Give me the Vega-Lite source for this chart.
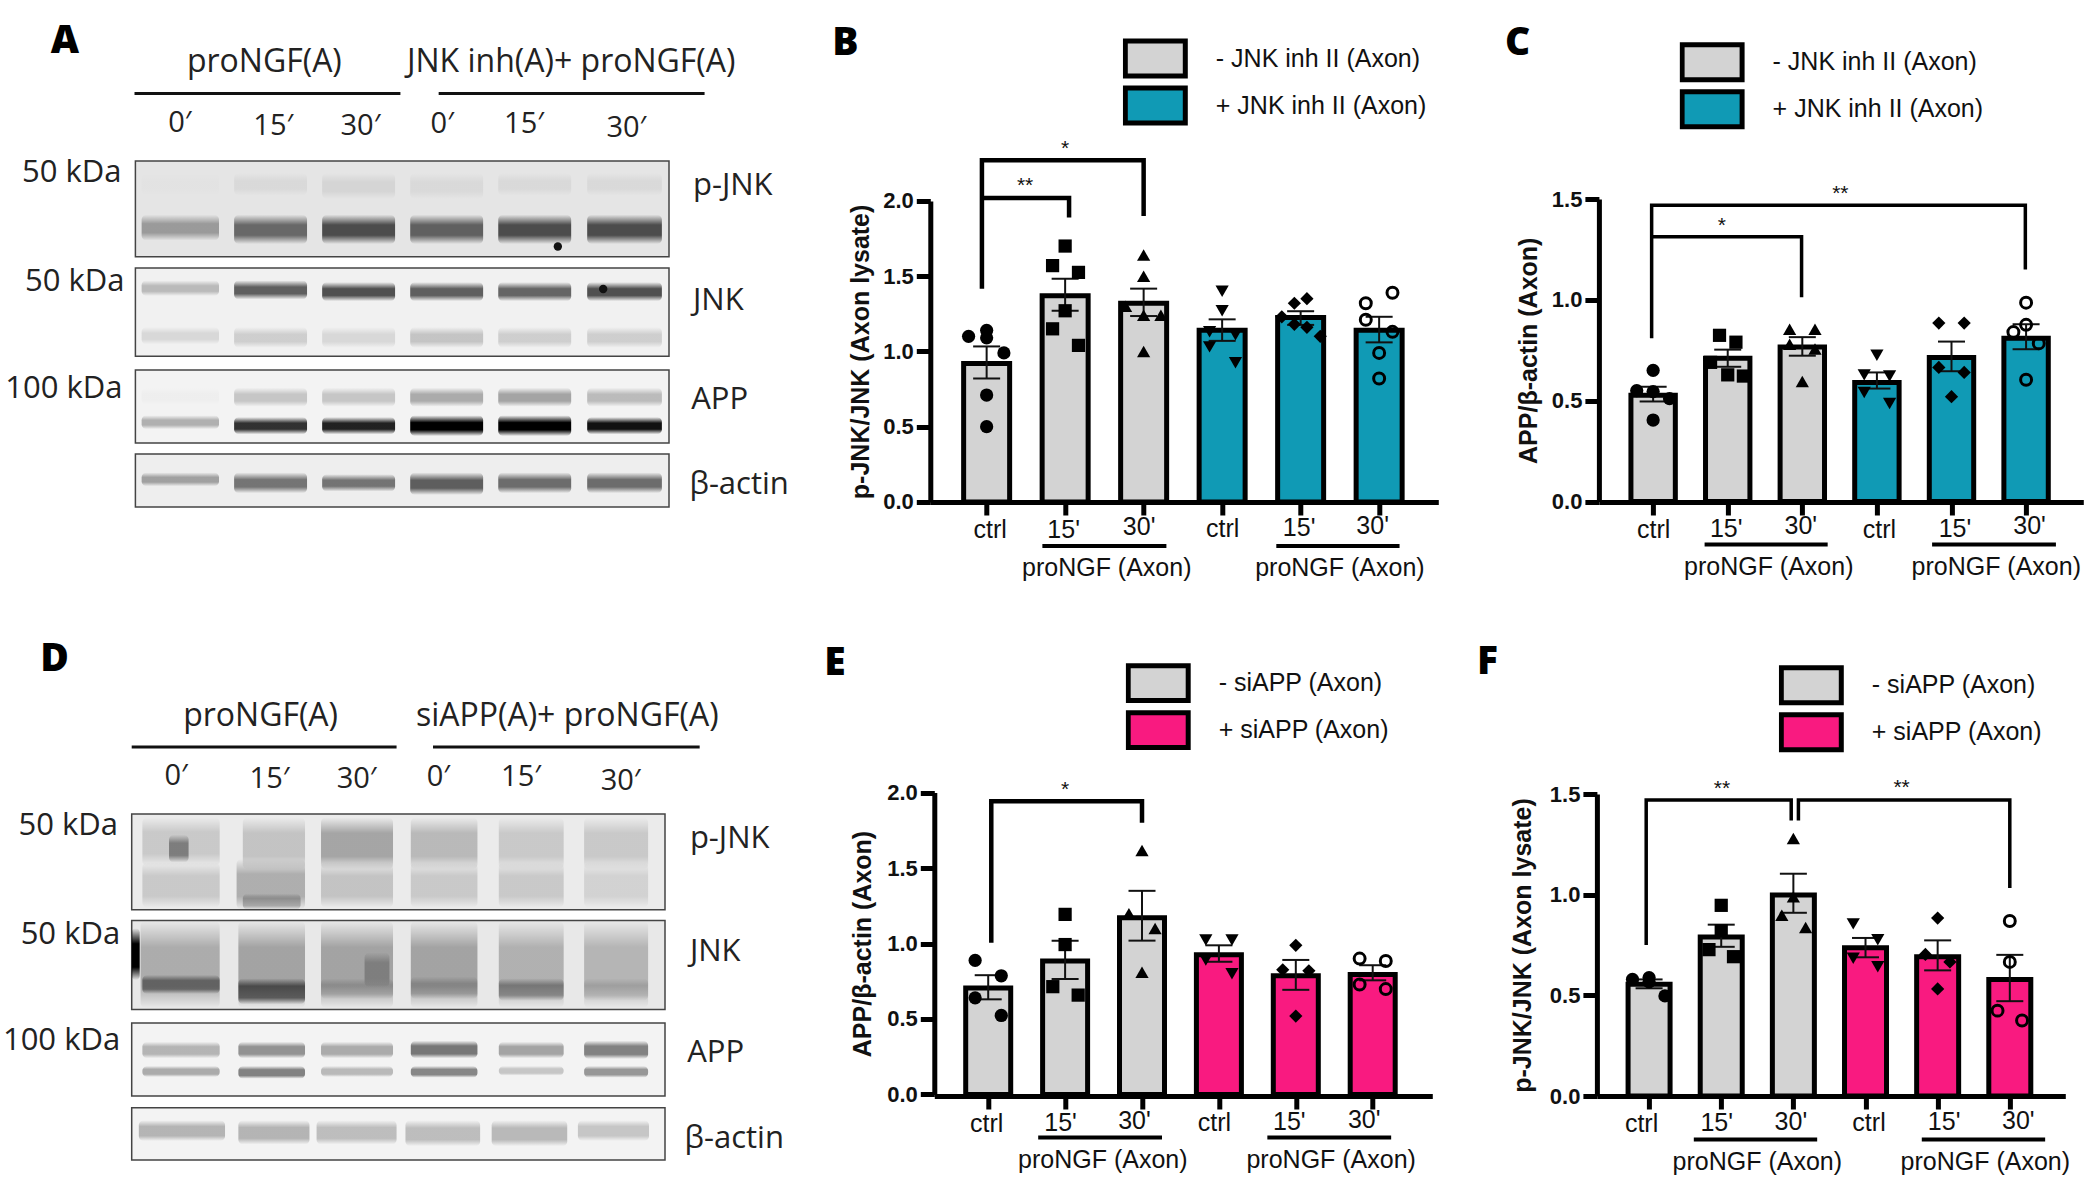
{"$schema":"https://vega.github.io/schema/vega-lite/v6.json","autosize":{"type":"none"},"padding":{"left":131.7,"top":199,"right":1968.3,"bottom":991},"background":"white","config":{"view":{"stroke":null},"font":"Liberation Sans"},
"datasets":{
"frameA":[{"start":0.5,"end":6.5,"top":0,"bottom":27.7,"background":0.09},{"start":0.5,"end":6.5,"top":30.9,"bottom":56.4,"background":0.05},{"start":0.5,"end":6.5,"top":60.4,"bottom":81.5,"background":0.04},{"start":0.5,"end":6.5,"top":84.7,"bottom":100,"background":0.06}],
"bandA":[
{"start":0.57,"end":1.44,"top":15.5,"bottom":23,"darkness":0.45},{"start":1.61,"end":2.43,"top":15.5,"bottom":24,"darkness":0.65},{"start":2.6,"end":3.42,"top":15.5,"bottom":24,"darkness":0.75},{"start":3.59,"end":4.41,"top":15.5,"bottom":24,"darkness":0.68},{"start":4.58,"end":5.4,"top":15.5,"bottom":24,"darkness":0.75},{"start":5.58,"end":6.42,"top":15.5,"bottom":24,"darkness":0.75},
{"start":0.57,"end":1.44,"top":3.5,"bottom":10,"darkness":0.04},{"start":1.61,"end":2.43,"top":3.5,"bottom":10,"darkness":0.12},{"start":2.6,"end":3.42,"top":3.5,"bottom":11,"darkness":0.15},{"start":3.59,"end":4.41,"top":3.5,"bottom":11,"darkness":0.12},{"start":4.58,"end":5.4,"top":3.5,"bottom":10,"darkness":0.12},{"start":5.58,"end":6.42,"top":3.5,"bottom":10,"darkness":0.12},
{"start":0.57,"end":1.44,"top":34.5,"bottom":39,"darkness":0.35},{"start":1.61,"end":2.43,"top":34.5,"bottom":40,"darkness":0.7},{"start":2.6,"end":3.42,"top":35,"bottom":40.5,"darkness":0.75},{"start":3.59,"end":4.41,"top":35,"bottom":40.5,"darkness":0.7},{"start":4.58,"end":5.4,"top":35,"bottom":40.5,"darkness":0.68},{"start":5.58,"end":6.42,"top":35,"bottom":40.5,"darkness":0.75},
{"start":0.57,"end":1.44,"top":48,"bottom":53,"darkness":0.2},{"start":1.61,"end":2.43,"top":48,"bottom":54,"darkness":0.25},{"start":2.6,"end":3.42,"top":48,"bottom":54,"darkness":0.2},{"start":3.59,"end":4.41,"top":48,"bottom":54,"darkness":0.3},{"start":4.58,"end":5.4,"top":48,"bottom":54,"darkness":0.25},{"start":5.58,"end":6.42,"top":48,"bottom":54,"darkness":0.25},
{"start":0.57,"end":1.44,"top":65.5,"bottom":70.5,"darkness":0.06},{"start":1.61,"end":2.43,"top":65.5,"bottom":71,"darkness":0.3},{"start":2.6,"end":3.42,"top":65.5,"bottom":71,"darkness":0.3},{"start":3.59,"end":4.41,"top":65.5,"bottom":71,"darkness":0.42},{"start":4.58,"end":5.4,"top":65.5,"bottom":71,"darkness":0.45},{"start":5.58,"end":6.42,"top":65.5,"bottom":71,"darkness":0.35},
{"start":0.57,"end":1.44,"top":73.5,"bottom":77.5,"darkness":0.4},{"start":1.61,"end":2.43,"top":74,"bottom":79,"darkness":0.85},{"start":2.6,"end":3.42,"top":74,"bottom":79,"darkness":0.9},{"start":3.59,"end":4.41,"top":73.5,"bottom":79.5,"darkness":1},{"start":4.58,"end":5.4,"top":73.5,"bottom":79.5,"darkness":1},{"start":5.58,"end":6.42,"top":74,"bottom":79,"darkness":0.95},
{"start":0.57,"end":1.44,"top":90,"bottom":94,"darkness":0.45},{"start":1.61,"end":2.43,"top":90,"bottom":96,"darkness":0.62},{"start":2.6,"end":3.42,"top":90.5,"bottom":95.5,"darkness":0.62},{"start":3.59,"end":4.41,"top":90,"bottom":96.5,"darkness":0.7},{"start":4.58,"end":5.4,"top":90,"bottom":96,"darkness":0.65},{"start":5.58,"end":6.42,"top":90,"bottom":96,"darkness":0.65}],
"speckA":[{"lane":5.25,"row":24.7},{"lane":5.76,"row":37}],
"lineA":[{"from":0.49,"to":3.48,"row":-19.5},{"from":3.91,"to":6.9,"row":-19.5}],
"headA":[{"lane":1.95,"row":-28.5,"label":"proNGF(A)"},{"lane":5.4,"row":-28.5,"label":"JNK inh(A)+ proNGF(A)"}],
"timeA":[{"lane":1.0,"row":-11,"label":"0′"},{"lane":2.05,"row":-10.2,"label":"15′"},{"lane":3.03,"row":-10.2,"label":"30′"},{"lane":3.95,"row":-10.7,"label":"0′"},{"lane":4.87,"row":-10.7,"label":"15′"},{"lane":6.02,"row":-9.5,"label":"30′"}],
"sizeA":[{"lane":0.344,"row":3.5,"label":"50 kDa"},{"lane":0.378,"row":35,"label":"50 kDa"},{"lane":0.355,"row":65.8,"label":"100 kDa"}],
"nameA":[{"lane":6.77,"row":7.2,"label":"p-JNK"},{"lane":6.77,"row":40.4,"label":"JNK"},{"lane":6.75,"row":69.1,"label":"APP"},{"lane":6.73,"row":93.6,"label":"β-actin"}],
"frameD":[{"start":0.5,"end":6.5,"top":0,"bottom":27.7,"background":0.07},{"start":0.5,"end":6.5,"top":30.8,"bottom":56.5,"background":0.08},{"start":0.5,"end":6.5,"top":60.4,"bottom":81.5,"background":0.04},{"start":0.5,"end":6.5,"top":84.9,"bottom":100,"background":0.04}],
"bandD":[
{"start":0.62,"end":1.49,"top":1,"bottom":15,"darkness":0.25},{"start":1.75,"end":2.45,"top":1,"bottom":16,"darkness":0.28},{"start":2.63,"end":3.44,"top":1,"bottom":16,"darkness":0.42},{"start":3.64,"end":4.39,"top":1,"bottom":16,"darkness":0.33},{"start":4.63,"end":5.36,"top":1,"bottom":16,"darkness":0.25},{"start":5.59,"end":6.31,"top":1,"bottom":16,"darkness":0.25},
{"start":0.62,"end":1.49,"top":14,"bottom":27,"darkness":0.25},{"start":1.68,"end":2.45,"top":13,"bottom":27.5,"darkness":0.38},{"start":2.63,"end":3.44,"top":14,"bottom":27,"darkness":0.28},{"start":3.64,"end":4.39,"top":14,"bottom":27,"darkness":0.25},{"start":4.63,"end":5.36,"top":14,"bottom":27,"darkness":0.25},{"start":5.59,"end":6.31,"top":14,"bottom":27,"darkness":0.2},
{"start":0.92,"end":1.14,"top":6,"bottom":14,"darkness":0.5},{"start":1.75,"end":2.4,"top":23,"bottom":27.7,"darkness":0.35},
{"start":0.6,"end":1.49,"top":31,"bottom":56,"darkness":0.38},{"start":1.7,"end":2.45,"top":31,"bottom":56,"darkness":0.42},{"start":2.63,"end":3.44,"top":31,"bottom":56,"darkness":0.42},{"start":3.64,"end":4.39,"top":31,"bottom":56,"darkness":0.42},{"start":4.63,"end":5.36,"top":31,"bottom":56,"darkness":0.36},{"start":5.59,"end":6.31,"top":31,"bottom":56,"darkness":0.34},
{"start":0.62,"end":1.49,"top":46.5,"bottom":52,"darkness":0.55},{"start":1.7,"end":2.45,"top":47.5,"bottom":55,"darkness":0.65},{"start":2.63,"end":3.44,"top":47.5,"bottom":53.5,"darkness":0.25},{"start":3.64,"end":4.39,"top":47,"bottom":53.5,"darkness":0.3},{"start":4.63,"end":5.36,"top":47.5,"bottom":54,"darkness":0.45},{"start":5.59,"end":6.31,"top":47.5,"bottom":54,"darkness":0.22},
{"start":3.12,"end":3.4,"top":40,"bottom":50,"darkness":0.35},{"start":0.5,"end":0.59,"top":33,"bottom":48,"darkness":1},
{"start":0.62,"end":1.49,"top":65.8,"bottom":70.6,"darkness":0.38},{"start":1.7,"end":2.45,"top":65.8,"bottom":70.6,"darkness":0.52},{"start":2.63,"end":3.44,"top":65.8,"bottom":70.6,"darkness":0.42},{"start":3.64,"end":4.39,"top":65.5,"bottom":70.6,"darkness":0.62},{"start":4.63,"end":5.36,"top":65.8,"bottom":70.6,"darkness":0.45},{"start":5.59,"end":6.31,"top":65.5,"bottom":70.8,"darkness":0.58},
{"start":0.62,"end":1.49,"top":72.8,"bottom":76,"darkness":0.42},{"start":1.7,"end":2.45,"top":72.8,"bottom":76.5,"darkness":0.58},{"start":2.63,"end":3.44,"top":72.8,"bottom":76,"darkness":0.36},{"start":3.64,"end":4.39,"top":72.8,"bottom":76.2,"darkness":0.56},{"start":4.63,"end":5.36,"top":72.8,"bottom":75.6,"darkness":0.3},{"start":5.59,"end":6.31,"top":72.8,"bottom":76.2,"darkness":0.5},
{"start":0.58,"end":1.55,"top":88.5,"bottom":94.5,"darkness":0.38},{"start":1.7,"end":2.5,"top":88.5,"bottom":95.5,"darkness":0.38},{"start":2.58,"end":3.48,"top":88.5,"bottom":95.5,"darkness":0.34},{"start":3.58,"end":4.42,"top":88.5,"bottom":96,"darkness":0.34},{"start":4.55,"end":5.4,"top":88.5,"bottom":96,"darkness":0.36},{"start":5.52,"end":6.32,"top":88.5,"bottom":94.5,"darkness":0.3}],
"lineD":[{"from":0.5,"to":3.48,"row":-19.4},{"from":3.89,"to":6.89,"row":-19.4}],
"headD":[{"lane":1.95,"row":-28.4,"label":"proNGF(A)"},{"lane":5.4,"row":-28.4,"label":"siAPP(A)+ proNGF(A)"}],
"timeD":[{"lane":1.0,"row":-11,"label":"0′"},{"lane":2.05,"row":-10.2,"label":"15′"},{"lane":3.03,"row":-10.2,"label":"30′"},{"lane":3.95,"row":-10.7,"label":"0′"},{"lane":4.88,"row":-10.7,"label":"15′"},{"lane":6.0,"row":-9.5,"label":"30′"}],
"sizeD":[{"lane":0.345,"row":3.5,"label":"50 kDa"},{"lane":0.37,"row":35,"label":"50 kDa"},{"lane":0.37,"row":65.6,"label":"100 kDa"}],
"nameD":[{"lane":6.78,"row":7.2,"label":"p-JNK"},{"lane":6.78,"row":40,"label":"JNK"},{"lane":6.75,"row":69,"label":"APP"},{"lane":6.72,"row":93.8,"label":"β-actin"}],
"barB":[{"pos":1,"treat":"- JNK inh II (Axon)","mean":0.92,"low":0.82,"high":1.033},{"pos":2,"treat":"- JNK inh II (Axon)","mean":1.37,"low":1.27,"high":1.483},{"pos":3,"treat":"- JNK inh II (Axon)","mean":1.32,"low":1.235,"high":1.417},{"pos":4,"treat":"+ JNK inh II (Axon)","mean":1.14,"low":1.07,"high":1.213},{"pos":5,"treat":"+ JNK inh II (Axon)","mean":1.225,"low":1.176,"high":1.267},{"pos":6,"treat":"+ JNK inh II (Axon)","mean":1.14,"low":1.06,"high":1.23}],
"ptB":[{"pos":1,"value":1.14,"marker":"circle"},{"pos":0.77,"value":1.1,"marker":"circle"},{"pos":1,"value":1.09,"marker":"circle"},{"pos":1.22,"value":0.99,"marker":"circle"},{"pos":1,"value":0.71,"marker":"circle"},{"pos":1,"value":0.5,"marker":"circle"},
{"pos":2,"value":1.7,"marker":"square"},{"pos":1.84,"value":1.57,"marker":"square"},{"pos":2.17,"value":1.525,"marker":"square"},{"pos":2,"value":1.27,"marker":"square"},{"pos":1.84,"value":1.15,"marker":"square"},{"pos":2.17,"value":1.04,"marker":"square"},
{"pos":3,"value":1.64,"marker":"up"},{"pos":3,"value":1.5,"marker":"up"},{"pos":2.77,"value":1.3,"marker":"up"},{"pos":3,"value":1.24,"marker":"up"},{"pos":3.22,"value":1.24,"marker":"up"},{"pos":3,"value":1.0,"marker":"up"},
{"pos":4,"value":1.4,"marker":"down"},{"pos":4,"value":1.27,"marker":"down"},{"pos":3.84,"value":1.13,"marker":"down"},{"pos":4.17,"value":1.11,"marker":"down"},{"pos":3.84,"value":1.03,"marker":"down"},{"pos":4.17,"value":0.925,"marker":"down"},
{"pos":4.92,"value":1.32,"marker":"diamond"},{"pos":5.08,"value":1.35,"marker":"diamond"},{"pos":4.76,"value":1.23,"marker":"diamond"},{"pos":4.92,"value":1.18,"marker":"diamond"},{"pos":5.08,"value":1.16,"marker":"diamond"},{"pos":5.25,"value":1.1,"marker":"diamond"},
{"pos":6.17,"value":1.39,"marker":"open"},{"pos":5.83,"value":1.32,"marker":"open"},{"pos":5.83,"value":1.21,"marker":"open"},{"pos":6.17,"value":1.13,"marker":"open"},{"pos":6,"value":0.99,"marker":"open"},{"pos":6,"value":0.82,"marker":"open"}],
"brB":[{"id":"a","seq":1,"pos":0.94,"level":1.417},{"id":"a","seq":2,"pos":0.94,"level":2.27},{"id":"a","seq":3,"pos":3.0,"level":2.27},{"id":"a","seq":4,"pos":3.0,"level":1.9},{"id":"b","seq":1,"pos":0.94,"level":2.02},{"id":"b","seq":2,"pos":2.05,"level":2.02},{"id":"b","seq":3,"pos":2.05,"level":1.89}],
"starB":[{"pos":2.0,"level":2.38,"label":"*"},{"pos":1.49,"level":2.13,"label":"**"}],
"grpB":[{"from":1.71,"to":3.29,"level":-0.293,"mid":2.53,"textLevel":-0.44,"label":"proNGF (Axon)"},{"from":4.69,"to":6.26,"level":-0.293,"mid":5.5,"textLevel":-0.44,"label":"proNGF (Axon)"}],
"barC":[{"pos":1,"treat":"- JNK inh II (Axon)","mean":0.527,"low":0.496,"high":0.569},{"pos":2,"treat":"- JNK inh II (Axon)","mean":0.71,"low":0.668,"high":0.753},{"pos":3,"treat":"- JNK inh II (Axon)","mean":0.766,"low":0.723,"high":0.815},{"pos":4,"treat":"+ JNK inh II (Axon)","mean":0.59,"low":0.56,"high":0.64},{"pos":5,"treat":"+ JNK inh II (Axon)","mean":0.714,"low":0.646,"high":0.793},{"pos":6,"treat":"+ JNK inh II (Axon)","mean":0.81,"low":0.755,"high":0.879}],
"ptC":[{"pos":1,"value":0.65,"marker":"circle"},{"pos":0.78,"value":0.55,"marker":"circle"},{"pos":1,"value":0.545,"marker":"circle"},{"pos":1.22,"value":0.51,"marker":"circle"},{"pos":1,"value":0.404,"marker":"circle"},
{"pos":1.89,"value":0.824,"marker":"square"},{"pos":2.11,"value":0.79,"marker":"square"},{"pos":1.77,"value":0.69,"marker":"square"},{"pos":2,"value":0.628,"marker":"square"},{"pos":2.21,"value":0.622,"marker":"square"},
{"pos":2.83,"value":0.854,"marker":"up"},{"pos":3.17,"value":0.854,"marker":"up"},{"pos":2.83,"value":0.78,"marker":"up"},{"pos":3.17,"value":0.756,"marker":"up"},{"pos":3,"value":0.595,"marker":"up"},
{"pos":4,"value":0.725,"marker":"down"},{"pos":3.83,"value":0.628,"marker":"down"},{"pos":4.17,"value":0.622,"marker":"down"},{"pos":3.83,"value":0.54,"marker":"down"},{"pos":4.17,"value":0.486,"marker":"down"},
{"pos":4.83,"value":0.885,"marker":"diamond"},{"pos":5.17,"value":0.885,"marker":"diamond"},{"pos":4.83,"value":0.665,"marker":"diamond"},{"pos":5.17,"value":0.64,"marker":"diamond"},{"pos":5,"value":0.52,"marker":"diamond"},
{"pos":6,"value":0.986,"marker":"open"},{"pos":6,"value":0.876,"marker":"open"},{"pos":5.83,"value":0.84,"marker":"open"},{"pos":6.17,"value":0.784,"marker":"open"},{"pos":6,"value":0.604,"marker":"open"}],
"brC":[{"id":"a","seq":1,"pos":0.98,"level":0.81},{"id":"a","seq":2,"pos":0.98,"level":1.469},{"id":"a","seq":3,"pos":5.99,"level":1.469},{"id":"a","seq":4,"pos":5.99,"level":1.15},{"id":"b","seq":1,"pos":0.98,"level":1.313},{"id":"b","seq":2,"pos":2.99,"level":1.313},{"id":"b","seq":3,"pos":2.99,"level":1.013}],
"starC":[{"pos":1.92,"level":1.393,"label":"*"},{"pos":3.51,"level":1.551,"label":"**"}],
"grpC":[{"from":1.69,"to":3.34,"level":-0.213,"mid":2.55,"textLevel":-0.323,"label":"proNGF (Axon)"},{"from":4.74,"to":6.4,"level":-0.213,"mid":5.6,"textLevel":-0.323,"label":"proNGF (Axon)"}],
"barE":[{"pos":1,"treat":"- siAPP (Axon)","mean":0.705,"low":0.63,"high":0.79},{"pos":2,"treat":"- siAPP (Axon)","mean":0.884,"low":0.765,"high":1.019},{"pos":3,"treat":"- siAPP (Axon)","mean":1.17,"low":1.019,"high":1.349},{"pos":4,"treat":"+ siAPP (Axon)","mean":0.926,"low":0.879,"high":0.988},{"pos":5,"treat":"+ siAPP (Axon)","mean":0.786,"low":0.693,"high":0.891},{"pos":6,"treat":"+ siAPP (Axon)","mean":0.795,"low":0.756,"high":0.856}],
"ptE":[{"pos":0.83,"value":0.888,"marker":"circle"},{"pos":1.17,"value":0.786,"marker":"circle"},{"pos":0.83,"value":0.64,"marker":"circle"},{"pos":1.17,"value":0.523,"marker":"circle"},
{"pos":2,"value":1.193,"marker":"square"},{"pos":2,"value":0.993,"marker":"square"},{"pos":1.84,"value":0.714,"marker":"square"},{"pos":2.17,"value":0.658,"marker":"square"},
{"pos":3,"value":1.616,"marker":"up"},{"pos":2.83,"value":1.198,"marker":"up"},{"pos":3.17,"value":1.1,"marker":"up"},{"pos":3,"value":0.81,"marker":"up"},
{"pos":3.83,"value":1.023,"marker":"down"},{"pos":4.17,"value":1.023,"marker":"down"},{"pos":3.83,"value":0.89,"marker":"down"},{"pos":4.17,"value":0.8,"marker":"down"},
{"pos":5,"value":0.988,"marker":"diamond"},{"pos":4.83,"value":0.826,"marker":"diamond"},{"pos":5.17,"value":0.819,"marker":"diamond"},{"pos":5,"value":0.519,"marker":"diamond"},
{"pos":5.83,"value":0.9,"marker":"open"},{"pos":6.17,"value":0.884,"marker":"open"},{"pos":5.83,"value":0.728,"marker":"open"},{"pos":6.17,"value":0.698,"marker":"open"}],
"brE":[{"id":"a","seq":1,"pos":1.04,"level":1.005},{"id":"a","seq":2,"pos":1.04,"level":1.942},{"id":"a","seq":3,"pos":3.0,"level":1.942},{"id":"a","seq":4,"pos":3.0,"level":1.8}],
"starE":[{"pos":2.0,"level":2.05,"label":"*"}],
"grpE":[{"from":1.65,"to":3.26,"level":-0.286,"mid":2.49,"textLevel":-0.437,"label":"proNGF (Axon)"},{"from":4.63,"to":6.24,"level":-0.286,"mid":5.46,"textLevel":-0.437,"label":"proNGF (Axon)"}],
"barF":[{"pos":1,"treat":"- siAPP (Axon)","mean":0.555,"low":0.535,"high":0.579},{"pos":2,"treat":"- siAPP (Axon)","mean":0.79,"low":0.741,"high":0.851},{"pos":3,"treat":"- siAPP (Axon)","mean":0.998,"low":0.91,"high":1.104},{"pos":4,"treat":"+ siAPP (Axon)","mean":0.736,"low":0.689,"high":0.785},{"pos":5,"treat":"+ siAPP (Axon)","mean":0.692,"low":0.624,"high":0.773},{"pos":6,"treat":"+ siAPP (Axon)","mean":0.579,"low":0.471,"high":0.701}],
"ptF":[{"pos":0.77,"value":0.579,"marker":"circle"},{"pos":1,"value":0.588,"marker":"circle"},{"pos":1,"value":0.567,"marker":"circle"},{"pos":1.22,"value":0.497,"marker":"circle"},
{"pos":2,"value":0.947,"marker":"square"},{"pos":2,"value":0.82,"marker":"square"},{"pos":1.83,"value":0.727,"marker":"square"},{"pos":2.17,"value":0.692,"marker":"square"},
{"pos":3,"value":1.279,"marker":"up"},{"pos":3,"value":0.989,"marker":"up"},{"pos":2.84,"value":0.898,"marker":"up"},{"pos":3.17,"value":0.837,"marker":"up"},
{"pos":3.83,"value":0.855,"marker":"down"},{"pos":4.17,"value":0.776,"marker":"down"},{"pos":3.83,"value":0.684,"marker":"down"},{"pos":4.17,"value":0.642,"marker":"down"},
{"pos":5,"value":0.884,"marker":"diamond"},{"pos":4.83,"value":0.703,"marker":"diamond"},{"pos":5.17,"value":0.666,"marker":"diamond"},{"pos":5,"value":0.532,"marker":"diamond"},
{"pos":6,"value":0.869,"marker":"open"},{"pos":6,"value":0.666,"marker":"open"},{"pos":5.83,"value":0.424,"marker":"open"},{"pos":6.17,"value":0.375,"marker":"open"}],
"brF":[{"id":"a","seq":1,"pos":0.96,"level":0.75},{"id":"a","seq":2,"pos":0.96,"level":1.47},{"id":"a","seq":3,"pos":2.97,"level":1.47},{"id":"a","seq":4,"pos":2.97,"level":1.369},{"id":"b","seq":1,"pos":3.07,"level":1.369},{"id":"b","seq":2,"pos":3.07,"level":1.47},{"id":"b","seq":3,"pos":6.0,"level":1.47},{"id":"b","seq":4,"pos":6.0,"level":1.033}],
"starF":[{"pos":2.01,"level":1.552,"label":"**"},{"pos":4.5,"level":1.556,"label":"**"}],
"grpF":[{"from":1.62,"to":3.33,"level":-0.216,"mid":2.5,"textLevel":-0.328,"label":"proNGF (Axon)"},{"from":4.78,"to":6.49,"level":-0.216,"mid":5.66,"textLevel":-0.328,"label":"proNGF (Axon)"}]
},
"vconcat":[
{"hconcat":[
{"width":637.7,"height":303,"title":{"text":"A","anchor":"start","frame":"group","dx":-81,"offset":-15,"fontSize":39,"font":"Open Sans","fontWeight":800},
"encoding":{"x":{"type":"quantitative","scale":{"domain":[0.5,6.5],"range":[3.7,537.3],"nice":false,"zero":false},"axis":null},"y":{"type":"quantitative","scale":{"domain":[0,100],"range":[-38,308],"nice":false,"zero":false},"axis":null}},
"layer":[
{"data":{"name":"frameA"},"mark":{"type":"rect","stroke":"#444","strokeWidth":1.5},"encoding":{"x":{"field":"start","type":"quantitative"},"x2":{"field":"end"},"y":{"field":"top","type":"quantitative"},"y2":{"field":"bottom"},"fill":{"field":"background","type":"quantitative","scale":{"domain":[0,1],"range":["#ffffff","#000000"]},"legend":null}}},
{"data":{"name":"bandA"},"mark":{"type":"rect","cornerRadius":5,"fill":{"gradient":"linear","x1":0,"y1":0,"x2":0,"y2":1,"stops":[{"offset":0,"color":"rgba(0,0,0,0)"},{"offset":0.35,"color":"#000000"},{"offset":0.7,"color":"#000000"},{"offset":1,"color":"rgba(0,0,0,0)"}]}},"encoding":{"x":{"field":"start","type":"quantitative"},"x2":{"field":"end"},"y":{"field":"top","type":"quantitative"},"y2":{"field":"bottom"},"opacity":{"field":"darkness","type":"quantitative","scale":{"type":"pow","exponent":1.4,"domain":[0,1],"range":[0,1]},"legend":null}}},
{"data":{"name":"speckA"},"mark":{"type":"circle","color":"#111","size":70,"opacity":1},"encoding":{"x":{"field":"lane","type":"quantitative"},"y":{"field":"row","type":"quantitative"}}},
{"data":{"name":"lineA"},"mark":{"type":"rule","color":"#111","strokeWidth":3},"encoding":{"x":{"field":"from","type":"quantitative"},"x2":{"field":"to"},"y":{"field":"row","type":"quantitative"}}},
{"data":{"name":"headA"},"mark":{"type":"text","font":"Open Sans","fontSize":32,"color":"#222","align":"center","baseline":"middle"},"encoding":{"x":{"field":"lane","type":"quantitative"},"y":{"field":"row","type":"quantitative"},"text":{"field":"label"}}},
{"data":{"name":"timeA"},"mark":{"type":"text","font":"Open Sans","fontSize":29,"color":"#222","align":"center","baseline":"middle"},"encoding":{"x":{"field":"lane","type":"quantitative"},"y":{"field":"row","type":"quantitative"},"text":{"field":"label"}}},
{"data":{"name":"sizeA"},"mark":{"type":"text","font":"Open Sans","fontSize":31,"color":"#222","align":"right","baseline":"middle"},"encoding":{"x":{"field":"lane","type":"quantitative"},"y":{"field":"row","type":"quantitative"},"text":{"field":"label"}}},
{"data":{"name":"nameA"},"mark":{"type":"text","font":"Open Sans","fontSize":31,"color":"#222","align":"left","baseline":"middle"},"encoding":{"x":{"field":"lane","type":"quantitative"},"y":{"field":"row","type":"quantitative"},"text":{"field":"label"}}}
]},
{"width":508,"height":303,"title":{"text":"B","anchor":"start","frame":"group","dx":-98,"offset":-28,"fontSize":39,"font":"Open Sans","fontWeight":800},
"layer":[
{"data":{"name":"barB"},"mark":{"type":"bar","orient":"vertical","size":46,"stroke":"#000","strokeWidth":5},"encoding":{"x":{"field":"pos","type":"quantitative","scale":{"domain":[0.346,6.69],"nice":false,"zero":false},"axis":{"values":[1,2,3,4,5,6],"title":null,"grid":false,"domainWidth":5,"domainColor":"#000","tickWidth":5,"tickColor":"#000","tickSize":13,"labelPadding":{"expr":"[2,2,-1,1,0,-2][datum.value-1]"},"labelFont":"Liberation Sans","labelFontSize":25,"labelColor":"#111","labelFlush":false,"labelOverlap":false,"labelBound":false,"labelExpr":"['ctrl',\"15'\",\"30'\",'ctrl',\"15'\",\"30'\"][datum.value-1]","labelOffset":{"expr":"[3,-2,-5,0,-2,-7][datum.value-1]"}}},"y":{"field":"mean","type":"quantitative","stack":null,"scale":{"domain":[0,2],"range":[302.9,1.9],"nice":false},"axis":{"values":[0,0.5,1,1.5,2],"format":".1f","title":"p-JNK/JNK (Axon lysate)","titleFont":"Liberation Sans","titleFontSize":25,"titleFontWeight":"bold","titleColor":"#111","titleX":-57,"grid":false,"domainWidth":5,"domainColor":"#000","tickWidth":5,"tickColor":"#000","tickSize":14,"labelPadding":3,"labelFont":"Liberation Sans","labelFontSize":22,"labelFontWeight":"bold","labelColor":"#111","labelFlush":false,"labelOverlap":false,"labelBound":false}},"fill":{"field":"treat","type":"nominal","scale":{"domain":["- JNK inh II (Axon)","+ JNK inh II (Axon)"],"range":["#d3d3d3","#109ab5"]},"legend":{"title":null,"orient":"none","legendX":192.5,"legendY":-164,"padding":0,"symbolType":"M-1,-0.58H1V0.58H-1Z","symbolSize":3600,"symbolStrokeWidth":5,"symbolStrokeColor":"#000","clipHeight":47,"rowPadding":0,"labelFont":"Liberation Sans","labelFontSize":25,"labelColor":"#111","labelOffset":28,"labelLimit":400}}}},
{"data":{"name":"barB"},"mark":{"type":"rule","color":"#111","strokeWidth":2},"encoding":{"x":{"field":"pos","type":"quantitative"},"y":{"field":"low","type":"quantitative"},"y2":{"field":"high"}}},
{"data":{"name":"barB"},"mark":{"type":"tick","orient":"horizontal","color":"#111","size":27,"thickness":2,"opacity":1},"encoding":{"x":{"field":"pos","type":"quantitative"},"y":{"field":"low","type":"quantitative"}}},
{"data":{"name":"barB"},"mark":{"type":"tick","orient":"horizontal","color":"#111","size":27,"thickness":2,"opacity":1},"encoding":{"x":{"field":"pos","type":"quantitative"},"y":{"field":"high","type":"quantitative"}}},
{"data":{"name":"ptB"},"mark":{"type":"point","filled":true,"fill":"#000","stroke":"#000","opacity":1},"encoding":{"x":{"field":"pos","type":"quantitative"},"y":{"field":"value","type":"quantitative"},"shape":{"field":"marker","type":"nominal","scale":{"domain":["circle","square","up","down","diamond","open"],"range":["circle","square","triangle-up","triangle-down","diamond","circle"]},"legend":null},"size":{"condition":{"test":"datum.marker==='open'","value":120},"value":175},"fillOpacity":{"condition":{"test":"datum.marker==='open'","value":0},"value":1},"strokeWidth":{"condition":{"test":"datum.marker==='open'","value":3},"value":0}}},
{"data":{"name":"brB"},"mark":{"type":"line","color":"#000","strokeWidth":4.5,"strokeCap":"butt","strokeJoin":"miter"},"encoding":{"x":{"field":"pos","type":"quantitative"},"y":{"field":"level","type":"quantitative"},"detail":{"field":"id"},"order":{"field":"seq"}}},
{"data":{"name":"grpB"},"mark":{"type":"rule","color":"#000","strokeWidth":4},"encoding":{"x":{"field":"from","type":"quantitative"},"x2":{"field":"to"},"y":{"field":"level","type":"quantitative"}}},
{"data":{"name":"grpB"},"mark":{"type":"text","font":"Liberation Sans","fontSize":25,"color":"#111","align":"center","baseline":"middle"},"encoding":{"x":{"field":"mid","type":"quantitative"},"y":{"field":"textLevel","type":"quantitative"},"text":{"field":"label"}}},
{"data":{"name":"starB"},"mark":{"type":"text","font":"Liberation Sans","fontSize":21,"color":"#111","align":"center","baseline":"middle","dy":5},"encoding":{"x":{"field":"pos","type":"quantitative"},"y":{"field":"level","type":"quantitative"},"text":{"field":"label"}}}
]},
{"width":484.4,"height":303,"title":{"text":"C","anchor":"start","frame":"group","dx":-94,"offset":-24,"fontSize":39,"font":"Open Sans","fontWeight":800},
"layer":[
{"data":{"name":"barC"},"mark":{"type":"bar","orient":"vertical","size":44.4,"stroke":"#000","strokeWidth":5},"encoding":{"x":{"field":"pos","type":"quantitative","scale":{"domain":[0.34,6.7],"nice":false,"zero":false},"axis":{"values":[1,2,3,4,5,6],"title":null,"grid":false,"domainWidth":5,"domainColor":"#000","tickWidth":5,"tickColor":"#000","tickSize":13,"labelPadding":{"expr":"[2,1,-2,2,1,-2][datum.value-1]"},"labelFont":"Liberation Sans","labelFontSize":25,"labelColor":"#111","labelFlush":false,"labelOverlap":false,"labelBound":false,"labelExpr":"['ctrl',\"15'\",\"30'\",'ctrl',\"15'\",\"30'\"][datum.value-1]","labelOffset":{"expr":"[0,-2,-2,2,3,3][datum.value-1]"}}},"y":{"field":"mean","type":"quantitative","stack":null,"scale":{"domain":[0,1.5],"range":[302.5,0],"nice":false},"axis":{"values":[0,0.5,1,1.5],"format":".1f","title":"APP/β-actin (Axon)","titleFont":"Liberation Sans","titleFontSize":25,"titleFontWeight":"bold","titleColor":"#111","titleX":-57,"grid":false,"domainWidth":5,"domainColor":"#000","tickWidth":5,"tickColor":"#000","tickSize":14,"labelPadding":3,"labelFont":"Liberation Sans","labelFontSize":22,"labelFontWeight":"bold","labelColor":"#111","labelFlush":false,"labelOverlap":false,"labelBound":false}},"fill":{"field":"treat","type":"nominal","scale":{"domain":["- JNK inh II (Axon)","+ JNK inh II (Axon)"],"range":["#d3d3d3","#109ab5"]},"legend":{"title":null,"orient":"none","legendX":80.7,"legendY":-160,"padding":0,"symbolType":"M-1,-0.58H1V0.58H-1Z","symbolSize":3600,"symbolStrokeWidth":5,"symbolStrokeColor":"#000","clipHeight":46.5,"rowPadding":0,"labelFont":"Liberation Sans","labelFontSize":25,"labelColor":"#111","labelOffset":28,"labelLimit":400}}}},
{"data":{"name":"barC"},"mark":{"type":"rule","color":"#111","strokeWidth":2},"encoding":{"x":{"field":"pos","type":"quantitative"},"y":{"field":"low","type":"quantitative"},"y2":{"field":"high"}}},
{"data":{"name":"barC"},"mark":{"type":"tick","orient":"horizontal","color":"#111","size":27,"thickness":2,"opacity":1},"encoding":{"x":{"field":"pos","type":"quantitative"},"y":{"field":"low","type":"quantitative"}}},
{"data":{"name":"barC"},"mark":{"type":"tick","orient":"horizontal","color":"#111","size":27,"thickness":2,"opacity":1},"encoding":{"x":{"field":"pos","type":"quantitative"},"y":{"field":"high","type":"quantitative"}}},
{"data":{"name":"ptC"},"mark":{"type":"point","filled":true,"fill":"#000","stroke":"#000","opacity":1},"encoding":{"x":{"field":"pos","type":"quantitative"},"y":{"field":"value","type":"quantitative"},"shape":{"field":"marker","type":"nominal","scale":{"domain":["circle","square","up","down","diamond","open"],"range":["circle","square","triangle-up","triangle-down","diamond","circle"]},"legend":null},"size":{"condition":{"test":"datum.marker==='open'","value":120},"value":175},"fillOpacity":{"condition":{"test":"datum.marker==='open'","value":0},"value":1},"strokeWidth":{"condition":{"test":"datum.marker==='open'","value":3},"value":0}}},
{"data":{"name":"brC"},"mark":{"type":"line","color":"#000","strokeWidth":3.5,"strokeCap":"butt","strokeJoin":"miter"},"encoding":{"x":{"field":"pos","type":"quantitative"},"y":{"field":"level","type":"quantitative"},"detail":{"field":"id"},"order":{"field":"seq"}}},
{"data":{"name":"grpC"},"mark":{"type":"rule","color":"#000","strokeWidth":4},"encoding":{"x":{"field":"from","type":"quantitative"},"x2":{"field":"to"},"y":{"field":"level","type":"quantitative"}}},
{"data":{"name":"grpC"},"mark":{"type":"text","font":"Liberation Sans","fontSize":25,"color":"#111","align":"center","baseline":"middle"},"encoding":{"x":{"field":"mid","type":"quantitative"},"y":{"field":"textLevel","type":"quantitative"},"text":{"field":"label"}}},
{"data":{"name":"starC"},"mark":{"type":"text","font":"Liberation Sans","fontSize":21,"color":"#111","align":"center","baseline":"middle","dy":5},"encoding":{"x":{"field":"pos","type":"quantitative"},"y":{"field":"level","type":"quantitative"},"text":{"field":"label"}}}
]}
],"spacing":160.6,"bounds":"flush"},
{"hconcat":[
{"width":637.7,"height":304,"title":{"text":"D","anchor":"start","frame":"group","dx":-91.4,"offset":21,"fontSize":39,"font":"Open Sans","fontWeight":800},
"encoding":{"x":{"type":"quantitative","scale":{"domain":[0.5,6.5],"range":[0,533.3],"nice":false,"zero":false},"axis":null},"y":{"type":"quantitative","scale":{"domain":[0,100],"range":[22,368],"nice":false,"zero":false},"axis":null}},
"layer":[
{"data":{"name":"frameD"},"mark":{"type":"rect","stroke":"#444","strokeWidth":1.5},"encoding":{"x":{"field":"start","type":"quantitative"},"x2":{"field":"end"},"y":{"field":"top","type":"quantitative"},"y2":{"field":"bottom"},"fill":{"field":"background","type":"quantitative","scale":{"domain":[0,1],"range":["#ffffff","#000000"]},"legend":null}}},
{"data":{"name":"bandD"},"mark":{"type":"rect","cornerRadius":5,"fill":{"gradient":"linear","x1":0,"y1":0,"x2":0,"y2":1,"stops":[{"offset":0,"color":"rgba(0,0,0,0)"},{"offset":0.3,"color":"#000000"},{"offset":0.75,"color":"#000000"},{"offset":1,"color":"rgba(0,0,0,0)"}]}},"encoding":{"x":{"field":"start","type":"quantitative"},"x2":{"field":"end"},"y":{"field":"top","type":"quantitative"},"y2":{"field":"bottom"},"opacity":{"field":"darkness","type":"quantitative","scale":{"domain":[0,1],"range":[0,1]},"legend":null}}},
{"data":{"name":"lineD"},"mark":{"type":"rule","color":"#111","strokeWidth":3},"encoding":{"x":{"field":"from","type":"quantitative"},"x2":{"field":"to"},"y":{"field":"row","type":"quantitative"}}},
{"data":{"name":"headD"},"mark":{"type":"text","font":"Open Sans","fontSize":32,"color":"#222","align":"center","baseline":"middle"},"encoding":{"x":{"field":"lane","type":"quantitative"},"y":{"field":"row","type":"quantitative"},"text":{"field":"label"}}},
{"data":{"name":"timeD"},"mark":{"type":"text","font":"Open Sans","fontSize":29,"color":"#222","align":"center","baseline":"middle"},"encoding":{"x":{"field":"lane","type":"quantitative"},"y":{"field":"row","type":"quantitative"},"text":{"field":"label"}}},
{"data":{"name":"sizeD"},"mark":{"type":"text","font":"Open Sans","fontSize":31,"color":"#222","align":"right","baseline":"middle"},"encoding":{"x":{"field":"lane","type":"quantitative"},"y":{"field":"row","type":"quantitative"},"text":{"field":"label"}}},
{"data":{"name":"nameD"},"mark":{"type":"text","font":"Open Sans","fontSize":31,"color":"#222","align":"left","baseline":"middle"},"encoding":{"x":{"field":"lane","type":"quantitative"},"y":{"field":"row","type":"quantitative"},"text":{"field":"label"}}}
]},
{"width":498,"height":304,"title":{"text":"E","anchor":"start","frame":"group","dx":-110,"offset":-23,"fontSize":39,"font":"Open Sans","fontWeight":800},
"layer":[
{"data":{"name":"barE"},"mark":{"type":"bar","orient":"vertical","size":45,"stroke":"#000","strokeWidth":5},"encoding":{"x":{"field":"pos","type":"quantitative","scale":{"domain":[0.364,6.71],"nice":false,"zero":false},"axis":{"values":[1,2,3,4,5,6],"title":null,"grid":false,"domainWidth":5,"domainColor":"#000","tickWidth":5,"tickColor":"#000","tickSize":13,"labelPadding":{"expr":"[2,1,-1,1,0,-2][datum.value-1]"},"labelFont":"Liberation Sans","labelFontSize":25,"labelColor":"#111","labelFlush":false,"labelOverlap":false,"labelBound":false,"labelExpr":"['ctrl',\"15'\",\"30'\",'ctrl',\"15'\",\"30'\"][datum.value-1]","labelOffset":{"expr":"[-2,-5,-8,-5,-7,-9][datum.value-1]"}}},"y":{"field":"mean","type":"quantitative","stack":null,"scale":{"domain":[0,2],"range":[302.4,0.6],"nice":false},"axis":{"values":[0,0.5,1,1.5,2],"format":".1f","title":"APP/β-actin (Axon)","titleFont":"Liberation Sans","titleFontSize":25,"titleFontWeight":"bold","titleColor":"#111","titleX":-59,"grid":false,"domainWidth":5,"domainColor":"#000","tickWidth":5,"tickColor":"#000","tickSize":14,"labelPadding":3,"labelFont":"Liberation Sans","labelFontSize":22,"labelFontWeight":"bold","labelColor":"#111","labelFlush":false,"labelOverlap":false,"labelBound":false}},"fill":{"field":"treat","type":"nominal","scale":{"domain":["- siAPP (Axon)","+ siAPP (Axon)"],"range":["#d3d3d3","#f91a80"]},"legend":{"title":null,"orient":"none","legendX":191.4,"legendY":-132.4,"padding":0,"symbolType":"M-1,-0.58H1V0.58H-1Z","symbolSize":3600,"symbolStrokeWidth":5,"symbolStrokeColor":"#000","clipHeight":47,"rowPadding":0,"labelFont":"Liberation Sans","labelFontSize":25,"labelColor":"#111","labelOffset":28,"labelLimit":400}}}},
{"data":{"name":"barE"},"mark":{"type":"rule","color":"#111","strokeWidth":2},"encoding":{"x":{"field":"pos","type":"quantitative"},"y":{"field":"low","type":"quantitative"},"y2":{"field":"high"}}},
{"data":{"name":"barE"},"mark":{"type":"tick","orient":"horizontal","color":"#111","size":27,"thickness":2,"opacity":1},"encoding":{"x":{"field":"pos","type":"quantitative"},"y":{"field":"low","type":"quantitative"}}},
{"data":{"name":"barE"},"mark":{"type":"tick","orient":"horizontal","color":"#111","size":27,"thickness":2,"opacity":1},"encoding":{"x":{"field":"pos","type":"quantitative"},"y":{"field":"high","type":"quantitative"}}},
{"data":{"name":"ptE"},"mark":{"type":"point","filled":true,"fill":"#000","stroke":"#000","opacity":1},"encoding":{"x":{"field":"pos","type":"quantitative"},"y":{"field":"value","type":"quantitative"},"shape":{"field":"marker","type":"nominal","scale":{"domain":["circle","square","up","down","diamond","open"],"range":["circle","square","triangle-up","triangle-down","diamond","circle"]},"legend":null},"size":{"condition":{"test":"datum.marker==='open'","value":120},"value":175},"fillOpacity":{"condition":{"test":"datum.marker==='open'","value":0},"value":1},"strokeWidth":{"condition":{"test":"datum.marker==='open'","value":3},"value":0}}},
{"data":{"name":"brE"},"mark":{"type":"line","color":"#000","strokeWidth":4.5,"strokeCap":"butt","strokeJoin":"miter"},"encoding":{"x":{"field":"pos","type":"quantitative"},"y":{"field":"level","type":"quantitative"},"detail":{"field":"id"},"order":{"field":"seq"}}},
{"data":{"name":"grpE"},"mark":{"type":"rule","color":"#000","strokeWidth":4},"encoding":{"x":{"field":"from","type":"quantitative"},"x2":{"field":"to"},"y":{"field":"level","type":"quantitative"}}},
{"data":{"name":"grpE"},"mark":{"type":"text","font":"Liberation Sans","fontSize":25,"color":"#111","align":"center","baseline":"middle"},"encoding":{"x":{"field":"mid","type":"quantitative"},"y":{"field":"textLevel","type":"quantitative"},"text":{"field":"label"}}},
{"data":{"name":"starE"},"mark":{"type":"text","font":"Liberation Sans","fontSize":21,"color":"#111","align":"center","baseline":"middle","dy":5},"encoding":{"x":{"field":"pos","type":"quantitative"},"y":{"field":"level","type":"quantitative"},"text":{"field":"label"}}}
]},
{"width":468.4,"height":304,"title":{"text":"F","anchor":"start","frame":"group","dx":-120,"offset":-20,"fontSize":39,"font":"Open Sans","fontWeight":800},
"layer":[
{"data":{"name":"barF"},"mark":{"type":"bar","orient":"vertical","size":42,"stroke":"#000","strokeWidth":5},"encoding":{"x":{"field":"pos","type":"quantitative","scale":{"domain":[0.346,6.7],"nice":false,"zero":false},"axis":{"values":[1,2,3,4,5,6],"title":null,"grid":false,"domainWidth":5,"domainColor":"#000","tickWidth":5,"tickColor":"#000","tickSize":13,"labelPadding":{"expr":"[2,1,0,1,0,-1][datum.value-1]"},"labelFont":"Liberation Sans","labelFontSize":25,"labelColor":"#111","labelFlush":false,"labelOverlap":false,"labelBound":false,"labelExpr":"['ctrl',\"15'\",\"30'\",'ctrl',\"15'\",\"30'\"][datum.value-1]","labelOffset":{"expr":"[-8,-5,-3,3,6,8][datum.value-1]"}}},"y":{"field":"mean","type":"quantitative","stack":null,"scale":{"domain":[0,1.5],"range":[304,2],"nice":false},"axis":{"values":[0,0.5,1,1.5],"format":".1f","title":"p-JNK/JNK (Axon lysate)","titleFont":"Liberation Sans","titleFontSize":25,"titleFontWeight":"bold","titleColor":"#111","titleX":-61,"grid":false,"domainWidth":5,"domainColor":"#000","tickWidth":5,"tickColor":"#000","tickSize":14,"labelPadding":3,"labelFont":"Liberation Sans","labelFontSize":22,"labelFontWeight":"bold","labelColor":"#111","labelFlush":false,"labelOverlap":false,"labelBound":false}},"fill":{"field":"treat","type":"nominal","scale":{"domain":["- siAPP (Axon)","+ siAPP (Axon)"],"range":["#d3d3d3","#f91a80"]},"legend":{"title":null,"orient":"none","legendX":181.9,"legendY":-130,"padding":0,"symbolType":"M-1,-0.58H1V0.58H-1Z","symbolSize":3600,"symbolStrokeWidth":5,"symbolStrokeColor":"#000","clipHeight":46.5,"rowPadding":0,"labelFont":"Liberation Sans","labelFontSize":25,"labelColor":"#111","labelOffset":28,"labelLimit":400}}}},
{"data":{"name":"barF"},"mark":{"type":"rule","color":"#111","strokeWidth":2},"encoding":{"x":{"field":"pos","type":"quantitative"},"y":{"field":"low","type":"quantitative"},"y2":{"field":"high"}}},
{"data":{"name":"barF"},"mark":{"type":"tick","orient":"horizontal","color":"#111","size":27,"thickness":2,"opacity":1},"encoding":{"x":{"field":"pos","type":"quantitative"},"y":{"field":"low","type":"quantitative"}}},
{"data":{"name":"barF"},"mark":{"type":"tick","orient":"horizontal","color":"#111","size":27,"thickness":2,"opacity":1},"encoding":{"x":{"field":"pos","type":"quantitative"},"y":{"field":"high","type":"quantitative"}}},
{"data":{"name":"ptF"},"mark":{"type":"point","filled":true,"fill":"#000","stroke":"#000","opacity":1},"encoding":{"x":{"field":"pos","type":"quantitative"},"y":{"field":"value","type":"quantitative"},"shape":{"field":"marker","type":"nominal","scale":{"domain":["circle","square","up","down","diamond","open"],"range":["circle","square","triangle-up","triangle-down","diamond","circle"]},"legend":null},"size":{"condition":{"test":"datum.marker==='open'","value":120},"value":175},"fillOpacity":{"condition":{"test":"datum.marker==='open'","value":0},"value":1},"strokeWidth":{"condition":{"test":"datum.marker==='open'","value":3},"value":0}}},
{"data":{"name":"brF"},"mark":{"type":"line","color":"#000","strokeWidth":3.5,"strokeCap":"butt","strokeJoin":"miter"},"encoding":{"x":{"field":"pos","type":"quantitative"},"y":{"field":"level","type":"quantitative"},"detail":{"field":"id"},"order":{"field":"seq"}}},
{"data":{"name":"grpF"},"mark":{"type":"rule","color":"#000","strokeWidth":4},"encoding":{"x":{"field":"from","type":"quantitative"},"x2":{"field":"to"},"y":{"field":"level","type":"quantitative"}}},
{"data":{"name":"grpF"},"mark":{"type":"text","font":"Liberation Sans","fontSize":25,"color":"#111","align":"center","baseline":"middle"},"encoding":{"x":{"field":"mid","type":"quantitative"},"y":{"field":"textLevel","type":"quantitative"},"text":{"field":"label"}}},
{"data":{"name":"starF"},"mark":{"type":"text","font":"Liberation Sans","fontSize":21,"color":"#111","align":"center","baseline":"middle","dy":5},"encoding":{"x":{"field":"pos","type":"quantitative"},"y":{"field":"level","type":"quantitative"},"text":{"field":"label"}}}
]}
],"spacing":164.6,"bounds":"flush"}
],"spacing":593,"bounds":"flush"}
